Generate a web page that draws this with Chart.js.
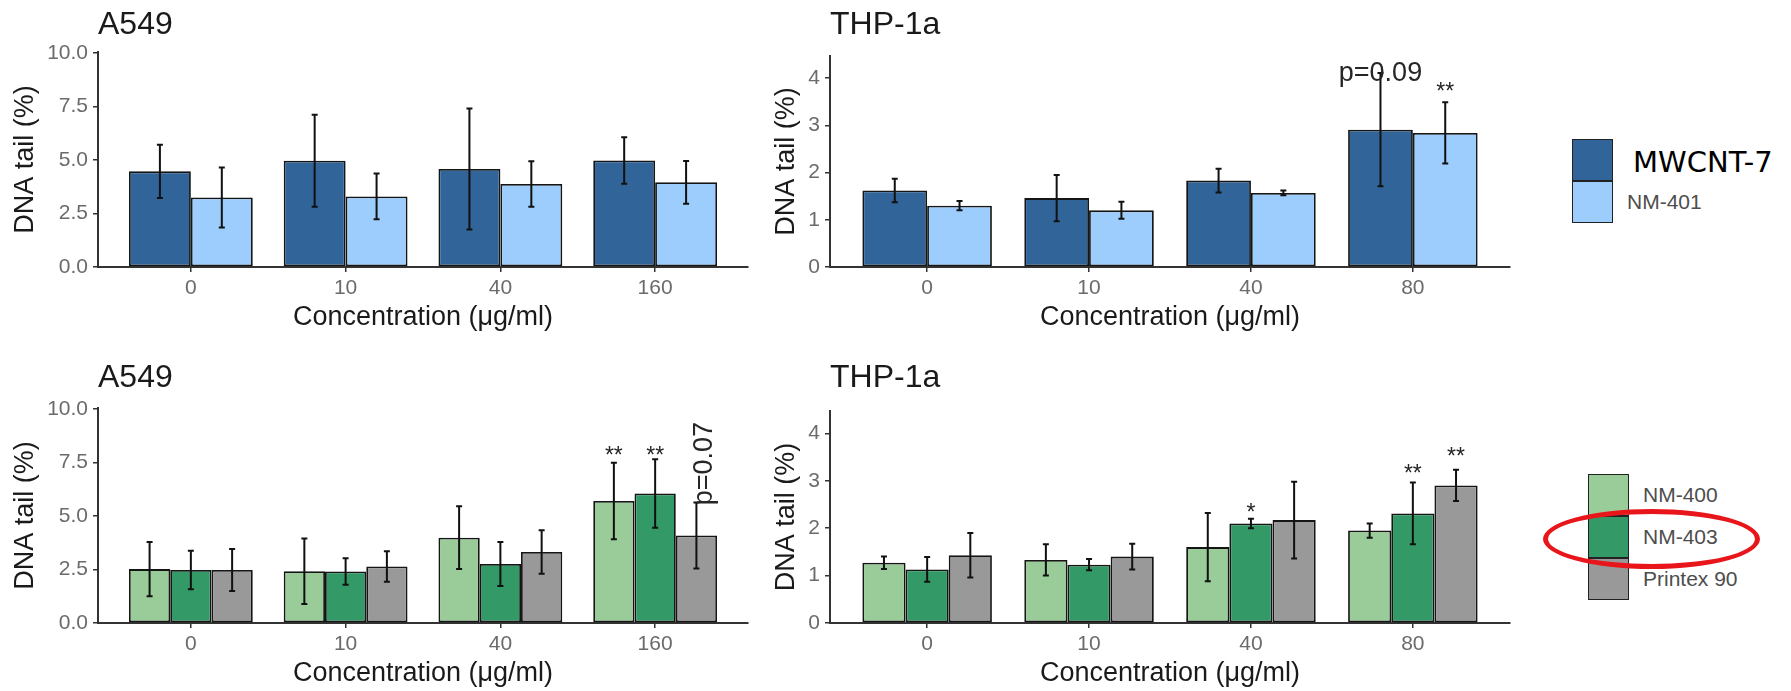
<!DOCTYPE html>
<html>
<head>
<meta charset="utf-8">
<script src="https://cdn.jsdelivr.net/npm/chart.js@4.4.1/dist/chart.umd.min.js"></script>
<style>
  body { margin: 0; width: 1791px; height: 691px; background: #fff; overflow: hidden; position: relative; font-family: "Liberation Sans", Arial, sans-serif; }
  canvas { position: absolute; }
  .key { position: absolute; width: 41px; height: 42px; box-sizing: border-box; border: 1.5px solid #222; }
  .lab { position: absolute; font-size: 21px; color: #4d4d4d; line-height: 24px; white-space: nowrap; }
</style>
</head>
<body>
<script>
// doses on the x axis
const a549Doses = ['0', '10', '40', '160'];
const thpDoses = ['0', '10', '40', '80'];

const blueNames = ['MWCNT-7', 'NM-401'];
const greenNames = ['NM-400', 'NM-403', 'Printex 90'];

// A549, tubes (mean, sd)
const a549Mwcnt7 = [4.47, 4.97, 4.58, 4.98];
const a549Mwcnt7Sd = [1.25, 2.15, 2.83, 1.09];
const a549Nm401 = [3.25, 3.30, 3.88, 3.96];
const a549Nm401Sd = [1.40, 1.07, 1.06, 1.00];

// THP-1a, tubes
const thpMwcnt7 = [1.62, 1.46, 1.83, 2.91];
const thpMwcnt7Sd = [0.25, 0.49, 0.25, 1.20];
const thpNm401 = [1.30, 1.20, 1.57, 2.84];
const thpNm401Sd = [0.10, 0.18, 0.05, 0.65];

// A549, NM-400 / NM-403 / Printex 90
const a549Nm400 = [2.52, 2.42, 3.99, 5.70];
const a549Nm400Sd = [1.27, 1.53, 1.47, 1.79];
const a549Nm403 = [2.48, 2.41, 2.76, 6.05];
const a549Nm403Sd = [0.90, 0.62, 1.03, 1.60];
const a549Printex = [2.48, 2.64, 3.32, 4.09];
const a549PrintexSd = [0.98, 0.71, 1.02, 1.54];

// THP-1a, NM-400 / NM-403 / Printex 90
const thpNm400 = [1.27, 1.33, 1.60, 1.95];
const thpNm400Sd = [0.13, 0.33, 0.72, 0.15];
const thpNm403 = [1.13, 1.23, 2.10, 2.31];
const thpNm403Sd = [0.26, 0.12, 0.10, 0.65];
const thpPrintex = [1.43, 1.40, 2.17, 2.90];
const thpPrintexSd = [0.47, 0.27, 0.81, 0.33];

// significance labels: series, dose index, y value where the label sits
const thpBlueNotes = [
  { series: 0, cat: 3, y: 4.10, text: 'p=0.09' },
  { series: 1, cat: 3, y: 3.79, text: '**' }
];
const a549GreenNotes = [
  { series: 0, cat: 3, y: 8.0, text: '**' },
  { series: 1, cat: 3, y: 8.0, text: '**' },
  { series: 2, cat: 3, y: 5.5, text: 'p=0.07', vertical: true }
];
const thpGreenNotes = [
  { series: 1, cat: 2, y: 2.42, text: '*' },
  { series: 1, cat: 3, y: 3.24, text: '**' },
  { series: 2, cat: 3, y: 3.60, text: '**' }
];

const blueColors = ['#316599', '#9ccdfc'];
const greenColors = ['#99cc99', '#339966', '#999999'];

const FONT = '"Liberation Sans", Arial, sans-serif';
Chart.defaults.font.family = FONT;

const errorBars = {
  id: 'errorBars',
  afterDatasetsDraw(chart) {
    const { ctx } = chart;
    const y = chart.scales.y;
    ctx.save();
    ctx.strokeStyle = '#111';
    ctx.lineWidth = 2;
    chart.data.datasets.forEach((ds, i) => {
      chart.getDatasetMeta(i).data.forEach((bar, j) => {
        const m = ds.data[j].y;
        const top = y.getPixelForValue(m + ds.sd[j]);
        const bot = y.getPixelForValue(m - ds.sd[j]);
        ctx.beginPath();
        ctx.moveTo(bar.x, top); ctx.lineTo(bar.x, bot);
        ctx.moveTo(bar.x - 3, top); ctx.lineTo(bar.x + 3, top);
        ctx.moveTo(bar.x - 3, bot); ctx.lineTo(bar.x + 3, bot);
        ctx.stroke();
      });
    });
    ctx.restore();
  }
};

function notesPlugin(notes) {
  return {
    id: 'notes',
    afterDraw(chart) {
      const { ctx } = chart;
      const y = chart.scales.y;
      ctx.save();
      ctx.fillStyle = '#262626';
      notes.forEach(n => {
        const bar = chart.getDatasetMeta(n.series).data[n.cat];
        const py = y.getPixelForValue(n.y);
        if (n.vertical) {
          ctx.font = '27px ' + FONT;
          ctx.translate(bar.x + 8, py);
          ctx.rotate(-Math.PI / 2);
          ctx.textAlign = 'left';
          ctx.textBaseline = 'middle';
          ctx.fillText(n.text, 0, 0);
          ctx.setTransform(1, 0, 0, 1, 0, 0);
        } else if (n.text.startsWith('*')) {
          ctx.font = '23px ' + FONT;
          ctx.textAlign = 'center';
          ctx.textBaseline = 'middle';
          ctx.fillText(n.text, bar.x, py + 5);
        } else {
          ctx.font = '27px ' + FONT;
          ctx.textAlign = 'center';
          ctx.textBaseline = 'middle';
          ctx.fillText(n.text, bar.x, py);
        }
      });
      ctx.restore();
    }
  };
}

function bars(label, means, sds, color) {
  return {
    label: label,
    data: means.map((v, i) => ({ x: i + 1, y: v })),
    sd: sds,
    backgroundColor: color,
    borderColor: '#151515',
    borderWidth: 1.8,
    borderSkipped: false,
    categoryPercentage: 0.8,
    barPercentage: 1
  };
}

// where each panel's plotting area sits on the page
const panels = [
  { title: 'A549', doses: a549Doses, ymax: 10.05, step: 2.5, digits: 1, notes: [],
    box: { left: 98, right: 748, top: 52, bottom: 267, titleY: 25, yTitleX: 25 },
    datasets: [bars(blueNames[0], a549Mwcnt7, a549Mwcnt7Sd, blueColors[0]),
               bars(blueNames[1], a549Nm401, a549Nm401Sd, blueColors[1])] },
  { title: 'THP-1a', doses: thpDoses, ymax: 4.47, step: 1, digits: 0, notes: thpBlueNotes,
    box: { left: 830, right: 1510, top: 56, bottom: 267, titleY: 25, yTitleX: 786 },
    datasets: [bars(blueNames[0], thpMwcnt7, thpMwcnt7Sd, blueColors[0]),
               bars(blueNames[1], thpNm401, thpNm401Sd, blueColors[1])] },
  { title: 'A549', doses: a549Doses, ymax: 10.05, step: 2.5, digits: 1, notes: a549GreenNotes,
    box: { left: 98, right: 748, top: 408, bottom: 623, titleY: 378, yTitleX: 25 },
    datasets: [bars(greenNames[0], a549Nm400, a549Nm400Sd, greenColors[0]),
               bars(greenNames[1], a549Nm403, a549Nm403Sd, greenColors[1]),
               bars(greenNames[2], a549Printex, a549PrintexSd, greenColors[2])] },
  { title: 'THP-1a', doses: thpDoses, ymax: 4.47, step: 1, digits: 0, notes: thpGreenNotes,
    box: { left: 830, right: 1510, top: 411, bottom: 623, titleY: 378, yTitleX: 786 },
    datasets: [bars(greenNames[0], thpNm400, thpNm400Sd, greenColors[0]),
               bars(greenNames[1], thpNm403, thpNm403Sd, greenColors[1]),
               bars(greenNames[2], thpPrintex, thpPrintexSd, greenColors[2])] }
];

const X_AXIS_H = 72;

panels.forEach(p => {
  const b = p.box;
  const cLeft = Math.round(b.yTitleX - 16.2);
  const cTop = Math.round(b.titleY - 23);
  const yW = b.left - cLeft;
  const canvas = document.createElement('canvas');
  canvas.width = b.right + 12 - cLeft;
  canvas.height = b.bottom + X_AXIS_H - cTop;
  canvas.style.left = cLeft + 'px';
  canvas.style.top = cTop + 'px';
  document.body.appendChild(canvas);

  new Chart(canvas, {
    type: 'bar',
    data: { datasets: p.datasets },
    options: {
      responsive: false,
      animation: false,
      devicePixelRatio: 1,
      layout: { padding: { left: 0, right: 12, top: 0, bottom: 0 } },
      plugins: {
        legend: { display: false },
        tooltip: { enabled: false },
        title: {
          display: true, text: p.title, align: 'start', fullSize: false,
          color: '#1a1a1a', font: { size: 32, weight: 'normal', lineHeight: 1.2 },
          padding: { top: 4, bottom: b.top - cTop - 4 - 38.4 }
        }
      },
      scales: {
        x: {
          type: 'linear', min: 0.4, max: 4.6, offset: false,
          afterFit: s => { s.height = X_AXIS_H; },
          border: { display: true, color: '#333', width: 2 },
          grid: { display: true, offset: false, drawOnChartArea: false, drawTicks: true, tickLength: 5, color: '#333', lineWidth: 1.5 },
          ticks: {
            stepSize: 1, includeBounds: false, autoSkip: false, maxRotation: 0,
            padding: 4, color: '#6b6b6b', font: { size: 21 },
            callback: v => p.doses[v - 1] ?? ''
          },
          title: {
            display: true, text: 'Concentration (\u03bcg/ml)', color: '#1a1a1a',
            font: { size: 27 }, padding: { top: 0, bottom: 4.8 }
          }
        },
        y: {
          min: 0, max: p.ymax,
          afterFit: s => { s.width = yW; },
          border: { display: true, color: '#333', width: 2 },
          grid: { display: true, drawOnChartArea: false, drawTicks: true, tickLength: 5, color: '#333', lineWidth: 1.5 },
          ticks: {
            stepSize: p.step, includeBounds: false, padding: 5,
            color: '#6b6b6b', font: { size: 21 },
            callback: v => v.toFixed(p.digits)
          },
          title: {
            display: true, text: 'DNA tail (%)', color: '#1a1a1a',
            font: { size: 27 }, padding: 0
          }
        }
      }
    },
    plugins: [errorBars, notesPlugin(p.notes)]
  });
});

// legends drawn as page elements
function legend(names, colors, keyLeft, keyTop, textLeft) {
  names.forEach((name, i) => {
    const key = document.createElement('div');
    key.className = 'key';
    key.style.left = keyLeft + 'px';
    key.style.top = (keyTop + i * 42) + 'px';
    key.style.background = colors[i];
    document.body.appendChild(key);
    const lab = document.createElement('div');
    lab.className = 'lab';
    lab.textContent = name;
    lab.style.left = textLeft + 'px';
    lab.style.top = (keyTop + i * 42 + 9) + 'px';
    document.body.appendChild(lab);
  });
}
legend(blueNames, blueColors, 1572, 139, 1627);
legend(greenNames, greenColors, 1588, 474, 1643);

// the first blue entry is printed larger in the figure
const big = document.querySelectorAll('.lab')[0];
big.style.fontFamily = '"DejaVu Sans", Verdana, sans-serif';
big.style.fontSize = '29px';
big.style.color = '#000';
big.style.left = '1633px';
big.style.top = '144px';
big.style.lineHeight = '36px';

// red ring round NM-403
const ring = document.createElement('div');
ring.style.cssText = 'position:absolute;left:1543px;top:509px;width:217px;height:60px;box-sizing:border-box;border:5px solid #e8151b;border-radius:50%;';
document.body.appendChild(ring);
</script>
</body>
</html>
